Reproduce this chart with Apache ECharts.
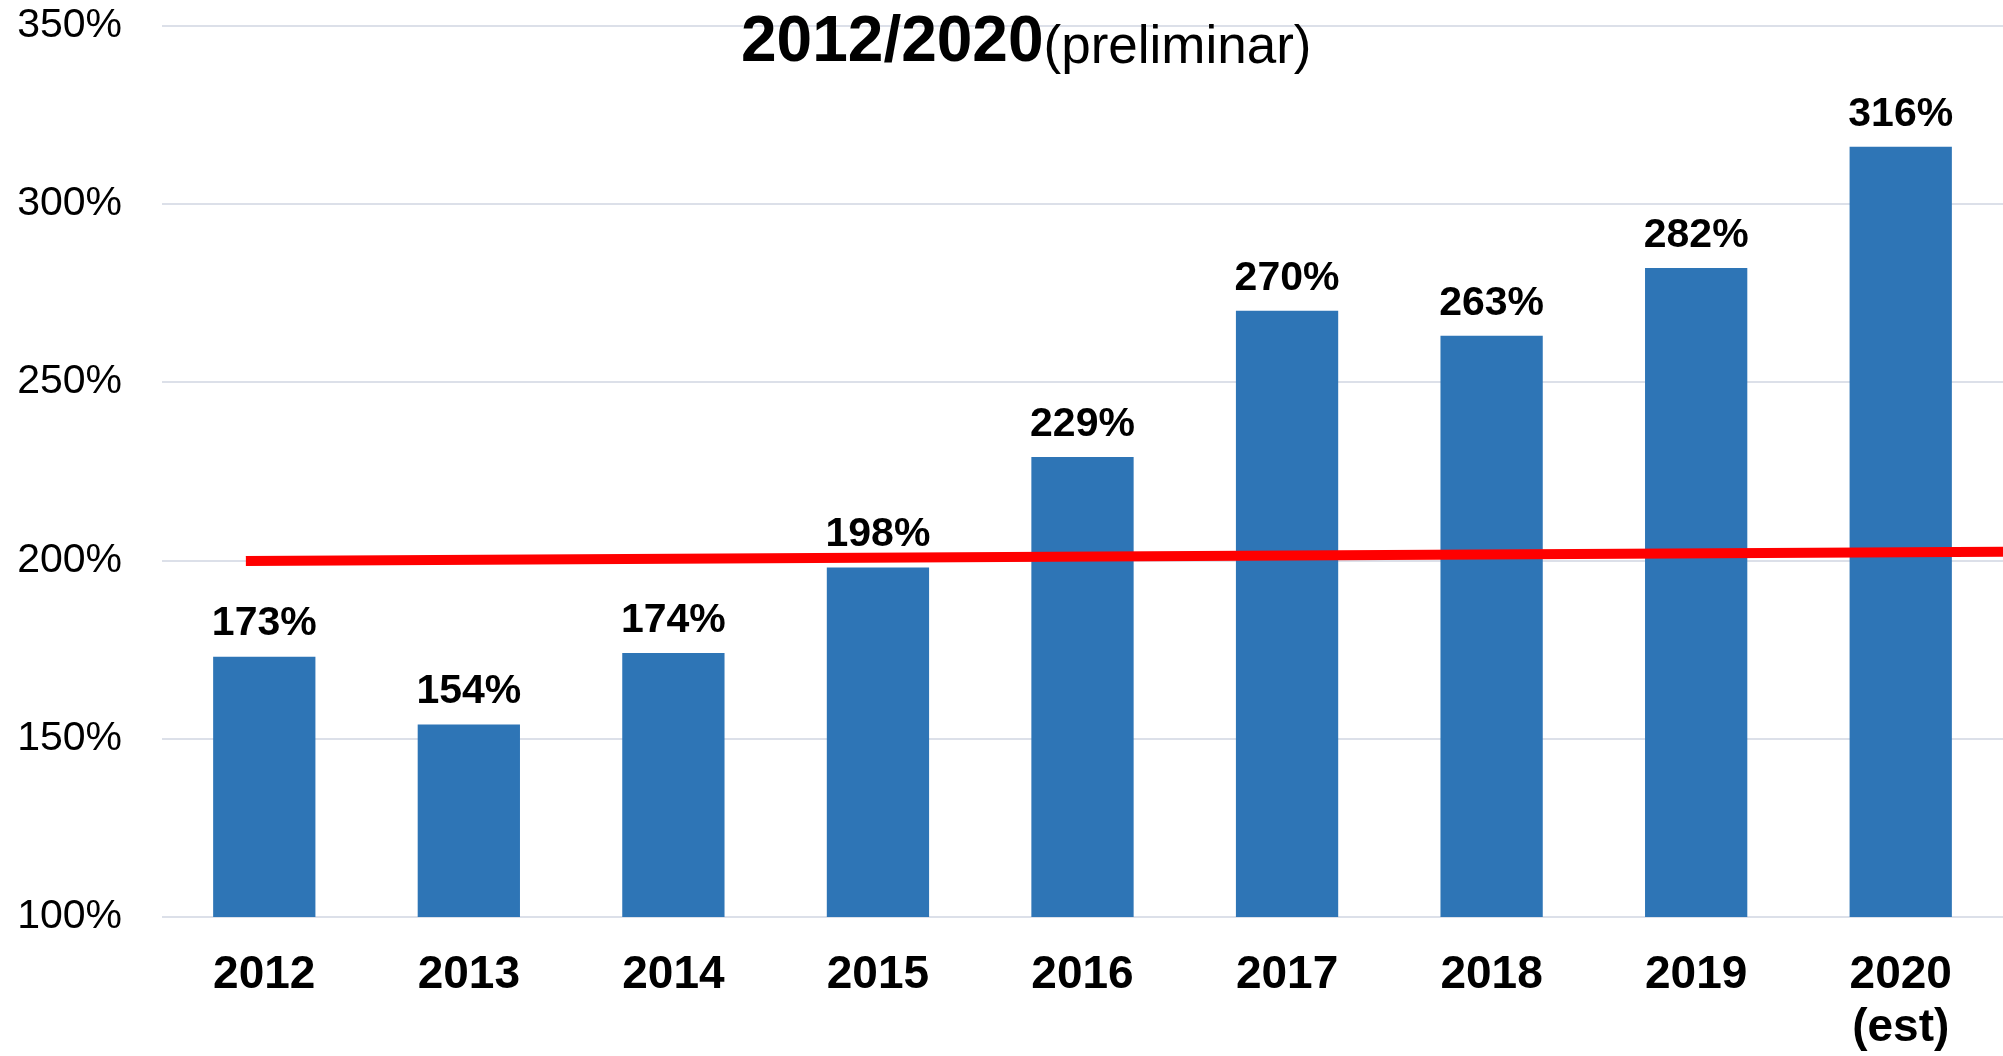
<!DOCTYPE html>
<html>
<head>
<meta charset="utf-8">
<script src="https://cdn.jsdelivr.net/npm/echarts@6/dist/echarts.min.js"></script>
<style>
html,body{margin:0;padding:0;background:#fff;}
#chart{width:2003px;height:1056px;}
</style>
</head>
<body>
<div id="chart"></div>
<script>
const categories = ['2012','2013','2014','2015','2016','2017','2018','2019','2020\n(est)'];
const values = [173,154,174,198,229,270,263,282,316];
const yMin = 100, yMax = 350, yStep = 50;
// red reference line: [position along category span (0..9), value]
const trendLine = [[0.41, 199.8],[9, 202.4]];
const titleMain = '2012/2020';
const titleSub = '(preliminar)';

const FONT = '"Liberation Sans", Arial, sans-serif';
const chart = echarts.init(document.getElementById('chart'), null, {renderer:'canvas'});
chart.setOption({
  animation:false,
  backgroundColor:'#ffffff',
  title:{
    text:'{a|'+titleMain+'}{b|'+titleSub+'}',
    left:736, top:6,
    textStyle:{
      rich:{
        a:{fontFamily:FONT,fontWeight:'bold',fontSize:64,color:'#000',lineHeight:64,verticalAlign:'bottom'},
        b:{fontFamily:FONT,fontWeight:'normal',fontSize:53,color:'#000',lineHeight:53,verticalAlign:'bottom'}
      }
    }
  },
  grid:{left:162,right:0,top:25.5,bottom:139,containLabel:false},
  xAxis:[{
    type:'category',
    data:categories,
    axisLine:{show:false},
    axisTick:{show:false},
    axisLabel:{fontFamily:FONT,fontWeight:'bold',fontSize:46,color:'#000',margin:32,lineHeight:53,interval:0}
  },{
    type:'value', min:0, max:9, show:false
  }],
  yAxis:{
    type:'value', min:yMin, max:yMax, interval:yStep,
    axisLine:{show:false}, axisTick:{show:false},
    axisLabel:{fontFamily:FONT,fontSize:41,color:'#000',margin:40,formatter:'{value}%'},
    splitLine:{lineStyle:{color:'#DCE0E9',width:2}}
  },
  series:[{
    type:'bar',
    data:values,
    barWidth:'50%',
    itemStyle:{color:'#2E75B6'},
    label:{show:true,position:'top',distance:12,formatter:'{c}%',fontFamily:FONT,fontWeight:'bold',fontSize:41,color:'#000'}
  },{
    type:'line',
    xAxisIndex:1,
    data:trendLine,
    symbol:'none',
    lineStyle:{color:'#FF0000',width:10},
    z:5
  }]
});
</script>
</body>
</html>
